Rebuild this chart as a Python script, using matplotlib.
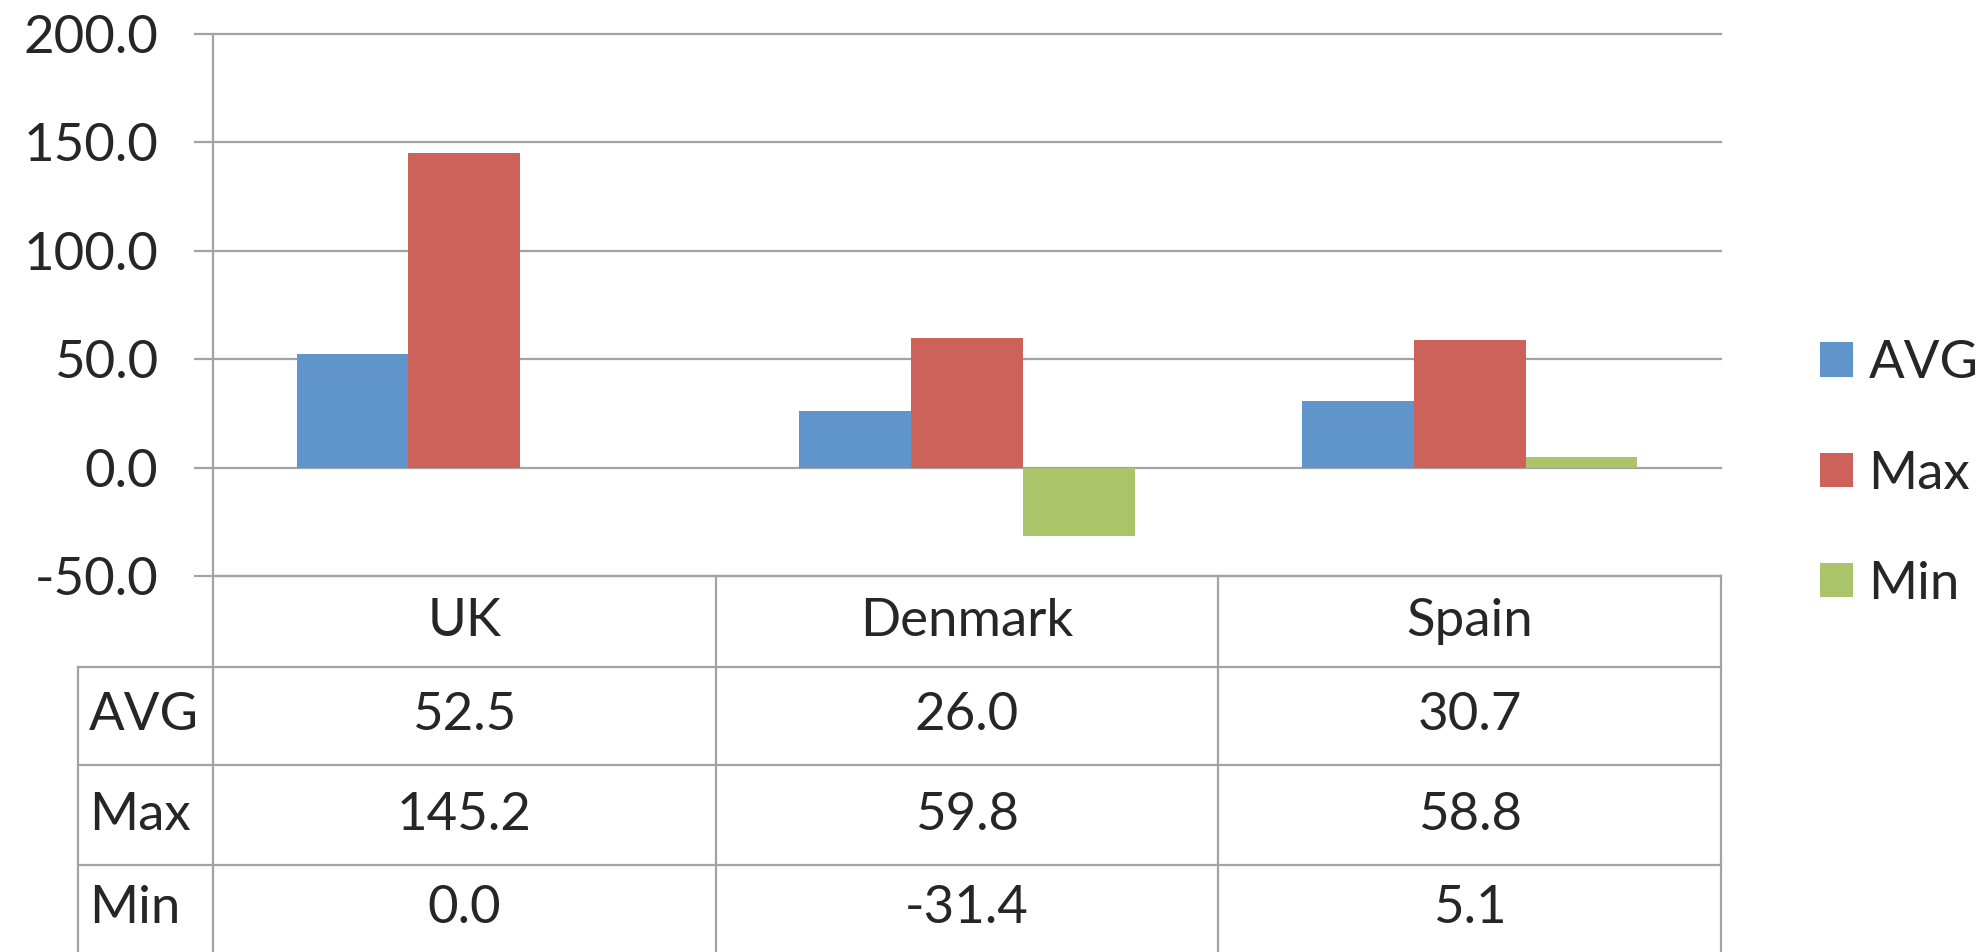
import matplotlib
matplotlib.use('Agg')
import matplotlib.pyplot as plt
import matplotlib.ticker as ticker
import numpy as np

countries = ['UK', 'Denmark', 'Spain']
series = ['AVG', 'Max', 'Min']
avg_vals = [52.5, 26.0, 30.7]
max_vals = [145.2, 59.8, 58.8]
min_vals = [0.0, -31.4, 5.1]
colors = ['#5f95ca', '#cd625b', '#a9c469']

plt.rcParams['font.family'] = ['Lato', 'DejaVu Sans']
plt.rcParams['axes.unicode_minus'] = False

grid_c = '#a3a3a3'
txt_c = '#262626'
fs = 38
W, H = 1984, 952

fig = plt.figure(figsize=(W / 100, H / 100), dpi=100)
# plot area: x 213..1721 px, y 34..576 px (from top)
ax = fig.add_axes([213 / W, 1 - 576 / H, 1508 / W, 542 / H])

x = np.arange(len(countries))
w = 1 / 4.5  # gap width 150%
vals = [avg_vals, max_vals, min_vals]
for i, (name, v, c) in enumerate(zip(series, vals, colors)):
    ax.bar(x + (i - 1) * w, v, w, color=c, label=name, zorder=2)

ax.set_xlim(-0.5, 2.5)
ax.set_ylim(-50, 200)
ax.yaxis.set_major_locator(ticker.MultipleLocator(50))
ax.yaxis.set_major_formatter(ticker.FormatStrFormatter('%.1f'))
ax.grid(axis='y', color=grid_c, lw=1.6, zorder=0)
ax.grid(axis='x', visible=False)
ax.set_axisbelow(True)
for gl in ax.get_ygridlines():
    gl.set_clip_on(False)
for s in ['top', 'right', 'bottom']:
    ax.spines[s].set_visible(False)
ax.spines['left'].set_color(grid_c)
ax.spines['left'].set_linewidth(1.6)
ax.tick_params(axis='y', length=13.5, width=1.6, color=grid_c, pad=26,
               labelsize=fs, labelcolor=txt_c)
ax.tick_params(axis='x', bottom=False, labelbottom=False)

# data table under the plot, columns aligned with the categories
tr = ax.get_xaxis_transform()


def yrow(p):
    # pixel row (from top of figure) -> axes fraction
    return -(p - 576) / 542


row_edges = [576, 667, 765, 865, 952]
x_left = -0.5 - 135 / 502.7
x_right = 2.5
lkw = dict(color=grid_c, lw=1.6, transform=tr, clip_on=False)

ax.plot([-0.5, x_right], [yrow(576)] * 2, **lkw)
for p in row_edges[1:4]:
    ax.plot([x_left, x_right], [yrow(p)] * 2, **lkw)
ax.plot([x_left, x_left], [yrow(667), yrow(960)], **lkw)
for xv in [-0.5, 0.5, 1.5, 2.5]:
    ax.plot([xv, xv], [yrow(576), yrow(960)], **lkw)

tkw = dict(transform=tr, fontsize=fs, color=txt_c, va='center', clip_on=False)
hy = yrow((row_edges[0] + row_edges[1]) / 2)
for i, name in enumerate(countries):
    ax.text(i, hy, name, ha='center', **tkw)
for r, (name, v) in enumerate(zip(series, vals)):
    cy = yrow((row_edges[r + 1] + row_edges[r + 2]) / 2)
    ax.text(x_left + 0.022, cy, name, ha='left', **tkw)
    for i, val in enumerate(v):
        ax.text(i, cy, '%.1f' % val, ha='center', **tkw)

ax.legend(loc='center left', bbox_to_anchor=(1820 / W, 1 - 474 / H),
          bbox_transform=fig.transFigure, frameon=False, fontsize=fs,
          handlelength=0.62, handleheight=0.62, handletextpad=0.3,
          labelspacing=1.2, borderpad=0, borderaxespad=0, labelcolor=txt_c)

fig.savefig('out.png', dpi=100)
